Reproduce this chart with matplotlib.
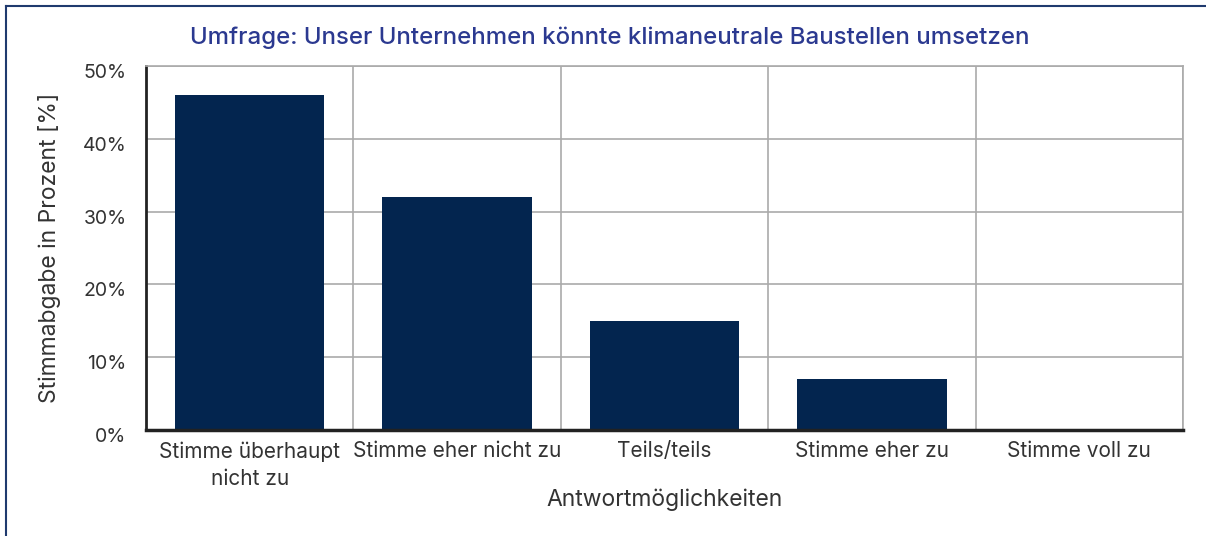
import numpy as np
import matplotlib.pyplot as plt
import matplotlib.transforms as mtransforms
from matplotlib.lines import Line2D

# Daten
categories = ['Stimme überhaupt\nnicht zu', 'Stimme eher nicht zu', 'Teils/teils',
              'Stimme eher zu', 'Stimme voll zu']
values = [46, 32, 15, 7, 0]
yticks = [0, 10, 20, 30, 40, 50]

plt.rcParams['font.family'] = ['Inter', 'DejaVu Sans']

W, H = 1206, 536
fig = plt.figure(figsize=(W / 100, H / 100), dpi=100)
ax = fig.add_axes([146 / W, 1 - 430 / H, (1183 - 146) / W, (430 - 66) / H])

x = np.arange(len(categories))
ax.bar(x, values, width=0.72, color='#03254f', zorder=3)

ax.set_xlim(-0.5, len(categories) - 0.5)
ax.set_ylim(0, 50)
ax.set_yticks(yticks)
ax.set_yticklabels([f'{v}%' for v in yticks], fontsize=14, color='#333333')
ax.set_xticks(x)
ax.set_xticklabels(categories, fontsize=15, color='#333333', linespacing=1.45)
ax.tick_params(axis='y', length=0, pad=14)
ax.tick_params(axis='x', length=0, pad=8)

# y-Beschriftung etwas nach unten versetzen
shift = mtransforms.ScaledTranslation(0, -5 / 100, fig.dpi_scale_trans)
for lbl in ax.get_yticklabels():
    lbl.set_transform(lbl.get_transform() + shift)

# Gitter
ax.set_xticks(np.arange(-0.5, len(categories) + 0.5, 1), minor=True)
ax.grid(axis='x', which='minor', color='#aaaaaa', linewidth=1.2, zorder=0)
ax.grid(axis='y', which='major', color='#aaaaaa', linewidth=1.2, zorder=0)
ax.tick_params(axis='x', which='minor', length=0)

for s in ['top', 'right']:
    ax.spines[s].set_color('#aaaaaa')
    ax.spines[s].set_linewidth(1.2)
ax.spines['left'].set_color('#222222')
ax.spines['left'].set_linewidth(2)
ax.spines['bottom'].set_color('#222222')
ax.spines['bottom'].set_linewidth(2.5)
ax.spines['bottom'].set_zorder(4)

ax.set_xlabel('Antwortmöglichkeiten', fontsize=16.5, color='#333333', labelpad=0)
ax.set_ylabel('Stimmabgabe in Prozent [%]', fontsize=16.5, color='#333333', labelpad=16)

fig.text(610 / W, 1 - 38 / H, 'Umfrage: Unser Unternehmen könnte klimaneutrale Baustellen umsetzen',
         ha='center', va='center', fontsize=17.3, color='#2b3990', fontweight='medium')

# Rahmen
fig.add_artist(Line2D([6 / W, 1], [1 - 6 / H, 1 - 6 / H], color='#1f3a6e', linewidth=1.5))
fig.add_artist(Line2D([6 / W, 6 / W], [0, 1 - 6 / H], color='#1f3a6e', linewidth=1.5))

fig.savefig('out.png', dpi=100)
